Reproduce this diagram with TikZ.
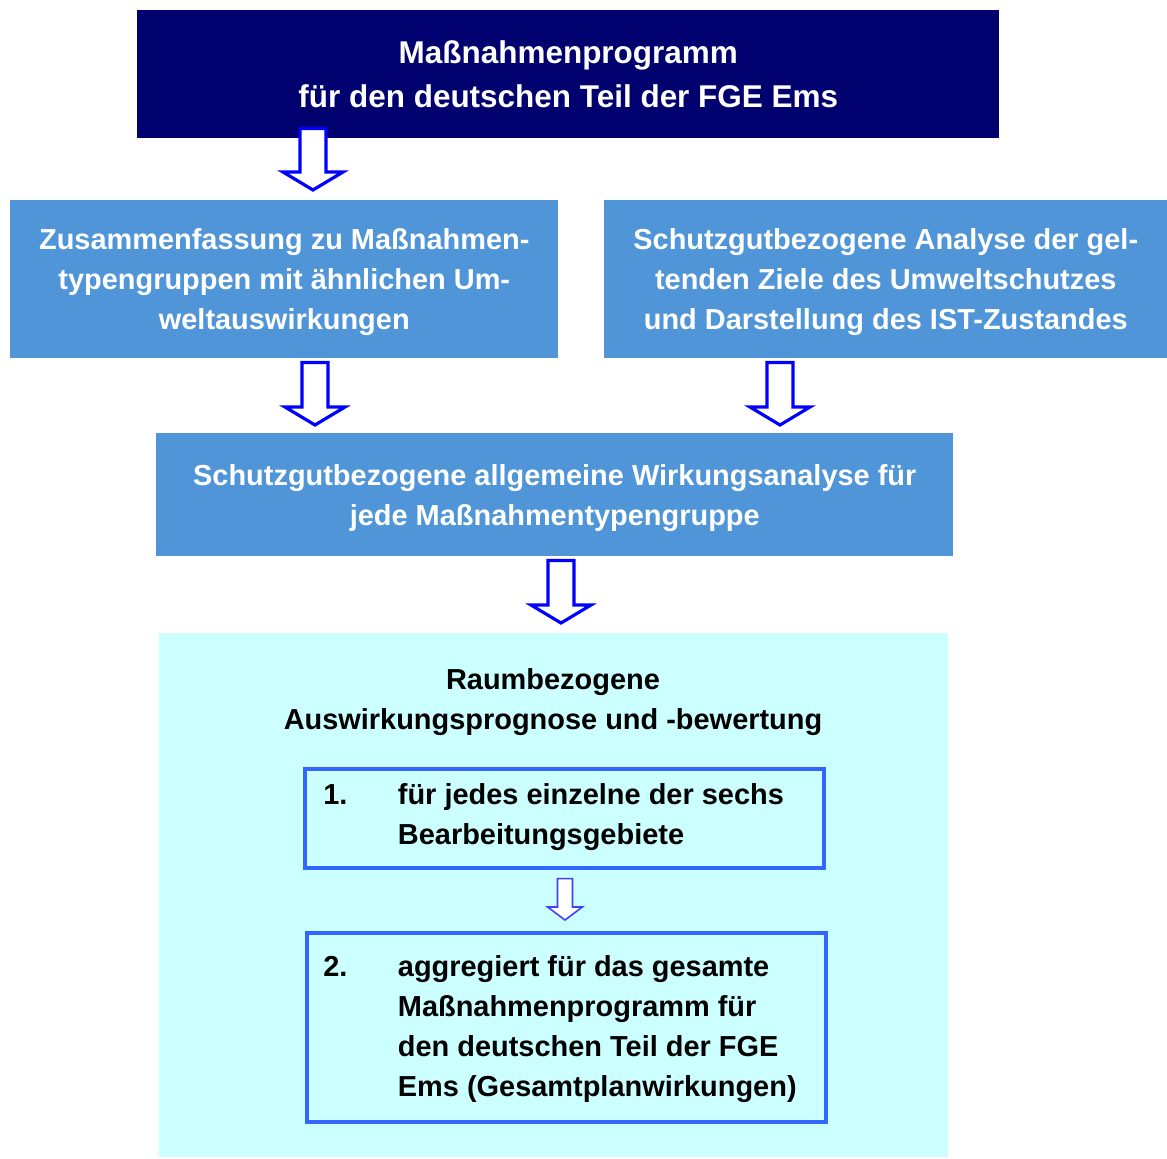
\documentclass[tikz,border=0pt]{standalone}
\usepackage{fontspec}
\setmainfont{Liberation Sans}
\usetikzlibrary{calc}
\definecolor{navy}{RGB}{0,0,110}
\definecolor{midblue}{RGB}{79,149,216}
\definecolor{paleblue}{RGB}{204,255,255}
\definecolor{frameblue}{RGB}{51,102,255}
\definecolor{arrowblue}{RGB}{0,0,255}
\tikzset{
	box/.style={anchor=north west, inner sep=0pt, align=center, text=white, text depth=0pt,
		font=\bfseries\fontsize{21.7}{30}\selectfont},
	subbox/.style={anchor=north west, inner sep=0pt, draw=frameblue, line width=3pt,
		fill=paleblue},
	steptext/.style={anchor=west, align=left, inner sep=0pt, text=black,
		font=\bfseries\fontsize{21.7}{30}\selectfont},
	hollowarrow/.style n args={3}{to path={let \p1=(\tikztostart), \p2=(\tikztotarget) in
		(\x1-#1,\y1) -- (\x1+#1,\y1) -- (\x1+#1,\y2+#3) -- (\x1+#2,\y2+#3) -- (\x2,\y2)
		-- (\x1-#2,\y2+#3) -- (\x1-#1,\y2+#3) -- cycle}},
	bigarrow/.style={draw=arrowblue, fill=white, line width=2.4pt, line join=miter,
		hollowarrow={9.75pt}{22.5pt}{13.5pt}},
	smallarrow/.style={draw=arrowblue!75, fill=white, line width=1.2pt, line join=miter,
		hollowarrow={5.6pt}{13pt}{9.75pt}}
}
\begin{document}
\begin{tikzpicture}[x=0.75pt, y=-0.75pt]
		%%%%% START %%%%%
		\useasboundingbox (0,0) rectangle (1167,1158);
		
		\node[box, fill=navy, minimum width=646.5pt, minimum height=96pt, text depth=, font=\bfseries\fontsize{23.6}{33}\selectfont] (prog) at (137,10)
			{Maßnahmenprogramm\\für den deutschen Teil der FGE Ems};
		
		\node[box, fill=midblue, minimum width=411pt, minimum height=118.5pt] (types) at (10,200)
			{Zusammenfassung zu Maßnahmen-\\typengruppen mit ähnlichen Um-\\weltauswirkungen};
		\node[box, fill=midblue, minimum width=422.25pt, minimum height=118.5pt] (goals) at (604,200)
			{Schutzgutbezogene Analyse der gel-\\tenden Ziele des Umweltschutzes\\und Darstellung des IST-Zustandes};
		
		\node[box, fill=midblue, minimum width=597.75pt, minimum height=92.25pt] (effects) at (156,433)
			{Schutzgutbezogene allgemeine Wirkungsanalyse für\\jede Maßnahmentypengruppe};
		
		\node[box, fill=paleblue, minimum width=591.75pt, minimum height=393pt] (area) at (159,633) {};
		\node[box, text=black, anchor=north] (title) at (553,668)
			{Raumbezogene\\Auswirkungsprognose und -bewertung};
		
		\node[subbox, minimum width=389pt, minimum height=74pt] (step1) at (303,767) {};
		\node[steptext] (step1txt) at (323,817)
			{\makebox[56pt][l]{1.}für jedes einzelne der sechs\\\hspace*{56pt}Bearbeitungsgebiete};
		
		\node[subbox, minimum width=389pt, minimum height=142pt] (step2) at (305,931) {};
		\node[steptext] (step2txt) at (323,1029)
			{\makebox[56pt][l]{2.}aggregiert für das gesamte\\\hspace*{56pt}Maßnahmenprogramm für\\\hspace*{56pt}den deutschen Teil der FGE\\\hspace*{56pt}Ems (Gesamtplanwirkungen)};
		
		% arrows
		\coordinate (a1s) at ($(prog.south west)+(176,-10)$);
		\coordinate (a1e) at ($(types.north west)+(303,-10)$);
		\coordinate (a2s) at ($(types.south west)+(305,4)$);
		\coordinate (a2e) at ($(effects.north west)+(159,-8)$);
		\coordinate (a3s) at ($(goals.south west)+(176,4)$);
		\coordinate (a3e) at ($(effects.north west)+(624,-8)$);
		\coordinate (a4s) at ($(effects.south west)+(405,4)$);
		\coordinate (a4e) at ($(area.north west)+(402,-10)$);
		\coordinate (a5s) at ($(step1.south west)+(262,9)$);
		\coordinate (a5e) at ($(step2.north west)+(260,-11)$);
		
		\draw[bigarrow] (a1s) to (a1e);
		\draw[bigarrow] (a2s) to (a2e);
		\draw[bigarrow] (a3s) to (a3e);
		\draw[bigarrow] (a4s) to (a4e);
		\draw[smallarrow] (a5s) to (a5e);
		%%%%% END %%%%%
	\end{tikzpicture}
\end{document}
